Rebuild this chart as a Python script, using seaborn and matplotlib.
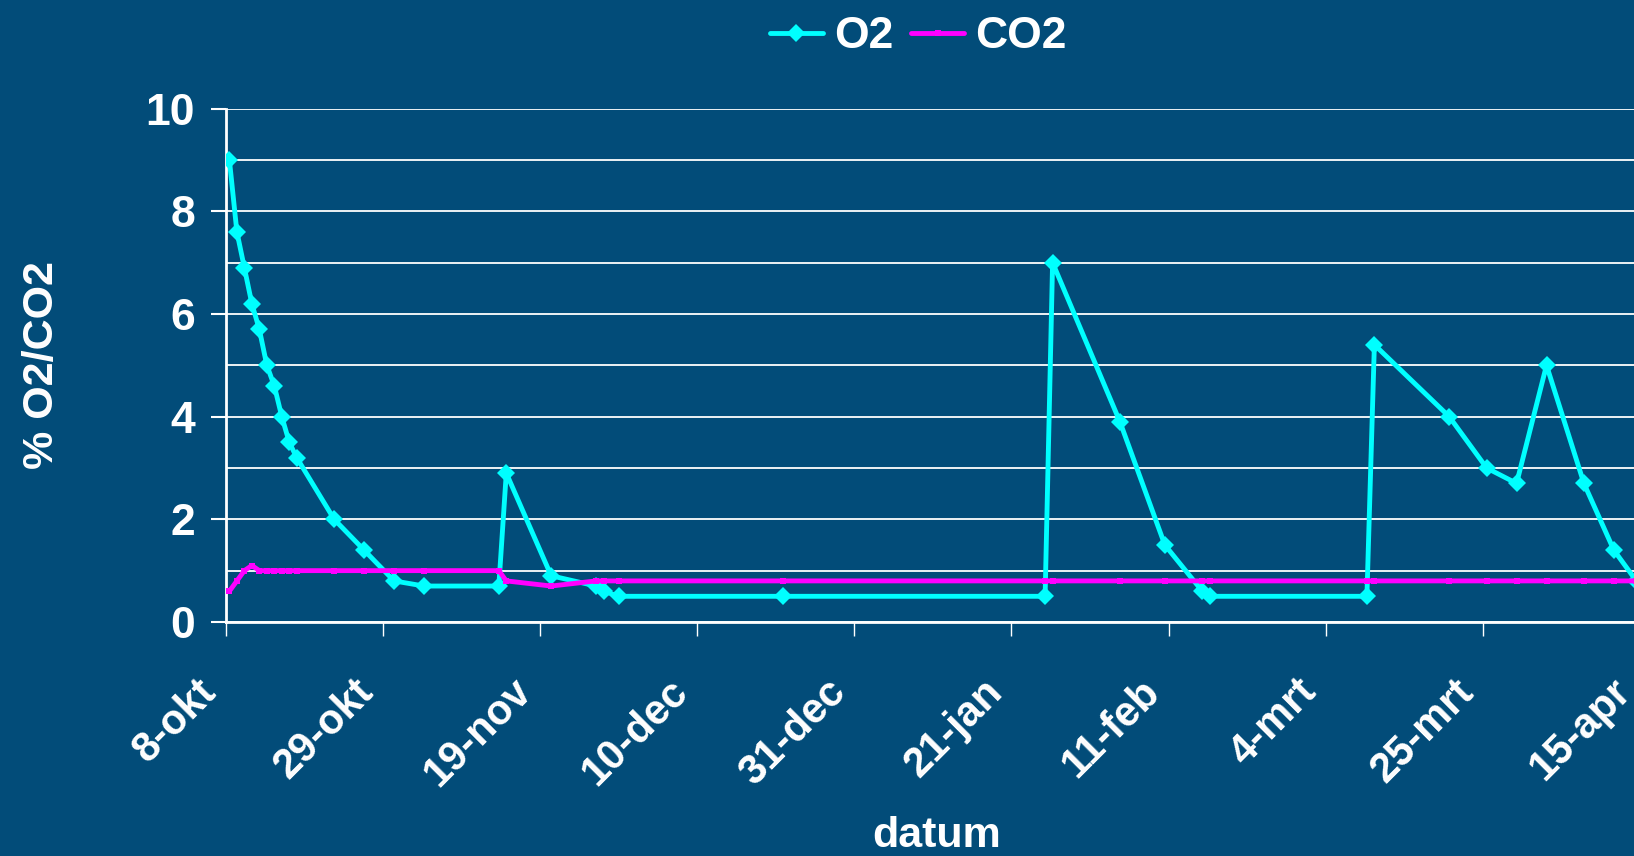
"""O2 / CO2 percentage over time (storage log) - recreated with seaborn."""

import matplotlib
matplotlib.use("Agg")
import matplotlib.pyplot as plt
import matplotlib.transforms as mtransforms
import pandas as pd
import seaborn as sns
from matplotlib.ticker import MultipleLocator

# --- data -------------------------------------------------------------------
start_date = "2006-10-08"

dates = [
    "2006-10-08", "2006-10-09", "2006-10-10", "2006-10-11", "2006-10-12",
    "2006-10-13", "2006-10-14", "2006-10-15", "2006-10-16", "2006-10-17",
    "2006-10-22", "2006-10-26", "2006-10-30", "2006-11-03", "2006-11-13",
    "2006-11-14", "2006-11-20", "2006-11-26", "2006-11-27", "2006-11-29",
    "2006-12-21", "2007-01-25", "2007-01-26", "2007-02-04", "2007-02-10",
    "2007-02-15", "2007-02-16", "2007-03-09", "2007-03-10", "2007-03-20",
    "2007-03-25", "2007-03-29", "2007-04-02", "2007-04-07", "2007-04-11",
    "2007-04-14",
]

o2 = [
    9.0, 7.6, 6.9, 6.2, 5.7, 5.0, 4.6, 4.0, 3.5, 3.2,
    2.0, 1.4, 0.8, 0.7, 0.7, 2.9, 0.9, 0.7, 0.6, 0.5,
    0.5, 0.5, 7.0, 3.9, 1.5, 0.6, 0.5, 0.5, 5.4, 4.0,
    3.0, 2.7, 5.0, 2.7, 1.4, 0.8,
]

co2 = [
    0.6, 0.8, 1.0, 1.1, 1.0, 1.0, 1.0, 1.0, 1.0, 1.0,
    1.0, 1.0, 1.0, 1.0, 1.0, 0.8, 0.7, 0.8, 0.8, 0.8,
    0.8, 0.8, 0.8, 0.8, 0.8, 0.8, 0.8, 0.8, 0.8, 0.8,
    0.8, 0.8, 0.8, 0.8, 0.8, 0.8,
]

tick_labels = ["8-okt", "29-okt", "19-nov", "10-dec", "31-dec",
               "21-jan", "11-feb", "4-mrt", "25-mrt", "15-apr"]

# --- style --------------------------------------------------------------------
BG = "#024C79"
sns.set_theme(style="white")
plt.rcParams["font.family"] = ["Liberation Sans", "DejaVu Sans"]
plt.rcParams["font.weight"] = "bold"

# excel puts the points in the middle of the day
x = pd.to_datetime(dates) + pd.Timedelta(hours=12)
df = pd.DataFrame({"datum": x, "O2": o2, "CO2": co2})
base = pd.Timestamp(start_date)
tick_dates = [base + pd.Timedelta(days=21 * i) for i in range(len(tick_labels))]

fig = plt.figure(figsize=(16.34, 8.56), dpi=100, facecolor=BG)
ax = fig.add_axes([0.1381, 0.2734, 0.8656, 0.5997])
ax.set_facecolor(BG)

sns.lineplot(data=df, x="datum", y="O2", ax=ax, color="#00FFFF", lw=3.5,
             marker="D", markersize=9, markeredgewidth=0, estimator=None,
             label="O2", zorder=3)
sns.lineplot(data=df, x="datum", y="CO2", ax=ax, color="#FF00FF", lw=3.5,
             marker="s", markersize=4.5, markeredgewidth=0, estimator=None,
             label="CO2", zorder=4)

ax.set_xlim(base, tick_dates[-1])
ax.set_ylim(0, 10)
ax.set_xticks(tick_dates)
ax.set_xticklabels(tick_labels, rotation=45, ha="right", va="center",
                   rotation_mode="anchor")

ax.yaxis.set_major_locator(MultipleLocator(2))
ax.yaxis.set_minor_locator(MultipleLocator(1))
ax.grid(axis="y", which="both", color="white", lw=1.3)
ax.grid(axis="x", visible=False)

for side in ("top", "right"):
    ax.spines[side].set_visible(False)
for side in ("left", "bottom"):
    ax.spines[side].set_color("white")
    ax.spines[side].set_linewidth(2)

ax.tick_params(axis="y", which="major", direction="out", length=11, width=1.5,
               color="white", labelcolor="white", labelsize=32, pad=11, left=True)
ax.tick_params(axis="y", which="minor", length=0)
ax.tick_params(axis="x", direction="out", length=10, width=1, color="white",
               labelcolor="white", labelsize=30, pad=36, bottom=True)

# nudge the rotated labels a bit to the left, like excel does
# (after tick_params, which resets the label transforms)
shift = mtransforms.ScaledTranslation(-0.15, 0, fig.dpi_scale_trans)
for lab in ax.get_xticklabels():
    lab.set_transform(lab.get_transform() + shift)

ax.set_ylabel("% O2/CO2", color="white", fontsize=31, fontweight="bold")
ax.yaxis.label.set_va("center")
ax.yaxis.set_label_coords(-0.130, 0.5)
ax.set_xlabel("datum", color="white", fontsize=31, fontweight="bold")
ax.xaxis.label.set_va("center")
ax.xaxis.set_label_coords(0.503, -0.417)

ax.get_legend().remove()
handles, labels = ax.get_legend_handles_labels()
leg = fig.legend(handles, labels, loc="center", bbox_to_anchor=(0.562, 0.957),
                 ncol=2, frameon=False, fontsize=32, handlelength=1.2,
                 handletextpad=0.25, columnspacing=0.4)
for t in leg.get_texts():
    t.set_color("white")
    t.set_fontweight("bold")

fig.savefig("out.png", dpi=100, facecolor=BG)
